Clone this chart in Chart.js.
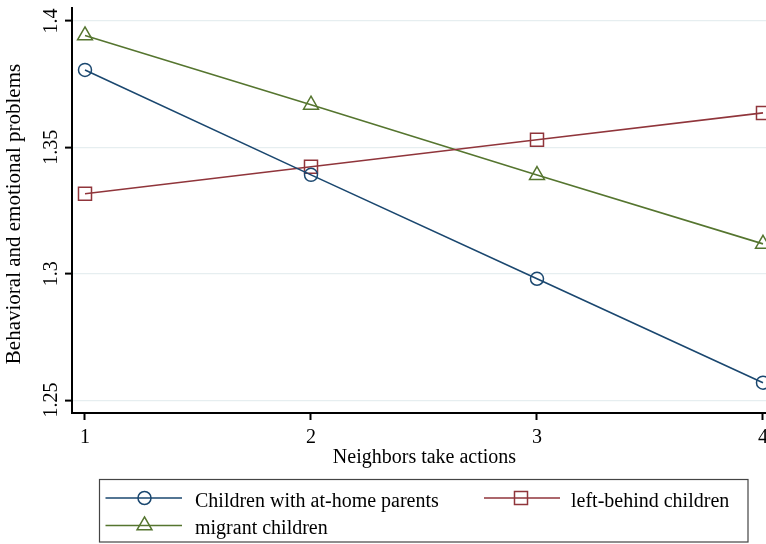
<!DOCTYPE html>
<html>
<head>
<meta charset="utf-8">
<script src="https://cdn.jsdelivr.net/npm/chart.js@4/dist/chart.umd.min.js"></script>
<style>
html,body{margin:0;padding:0;background:#fff;}
canvas{display:block;}
</style>
</head>
<body>
<canvas id="c" width="766" height="544"></canvas>
<script>
// ---- data ----
const xValues = [1, 2, 3, 4];
const xTickLabels = ['1', '2', '3', '4'];
const yTickValues = [1.25, 1.3, 1.35, 1.4];
const yTickLabels = ['1.25', '1.3', '1.35', '1.4'];
const seriesNames = ['Children with at-home parents', 'left-behind children', 'migrant children'];
const atHome = [1.3806, 1.3391, 1.2980, 1.2569];
const leftBehind = [1.3316, 1.3423, 1.3530, 1.3636];
const migrant = [1.3942, 1.3668, 1.3390, 1.3118];
const xTitle = 'Neighbors take actions';
const yTitle = 'Behavioral and emotional problems';

const FONT = "'Liberation Serif', 'Times New Roman', serif";
const colors = ['#1a476f', '#90353b', '#55752f'];
const styles = ['circle', 'rect', 'triangle'];
const radii = [6.5, 9.2, 8.6];

function pts(arr){ return xValues.map((x,i)=>({x:x, y:arr[i]})); }

function drawMarker(ctx, style, x, y, r){
  ctx.beginPath();
  if (style === 'circle') {
    ctx.arc(x, y, r, 0, Math.PI*2);
  } else if (style === 'rect') {
    const s = Math.SQRT1_2 * r;
    ctx.rect(x - s, y - s, 2*s, 2*s);
  } else if (style === 'triangle') {
    let a = 0;
    ctx.moveTo(x + Math.sin(a)*r, y - Math.cos(a)*r);
    a += 2*Math.PI/3;
    ctx.lineTo(x + Math.sin(a)*r, y - Math.cos(a)*r);
    a += 2*Math.PI/3;
    ctx.lineTo(x + Math.sin(a)*r, y - Math.cos(a)*r);
    ctx.closePath();
  }
  ctx.stroke();
}

const customDraw = {
  id: 'customDraw',
  afterDraw(chart){
    const ctx = chart.ctx;
    const ys = chart.scales.y;
    const xs = chart.scales.x;
    ctx.save();
    ctx.fillStyle = '#000';
    ctx.font = '20px ' + FONT;
    ctx.textAlign = 'center';
    ctx.textBaseline = 'alphabetic';
    // y tick labels, rotated
    yTickValues.forEach((v, i) => {
      const py = ys.getPixelForValue(v);
      ctx.save();
      ctx.translate(57, py);
      ctx.rotate(-Math.PI/2);
      ctx.fillText(yTickLabels[i], 0, 0);
      ctx.restore();
    });
    // x tick labels
    xValues.forEach((v, i) => {
      ctx.fillText(xTickLabels[i], xs.getPixelForValue(v), 443);
    });
    // x title
    ctx.fillText(xTitle, 424.5, 462.5);
    // y title
    ctx.save();
    ctx.font = '21px ' + FONT;
    ctx.translate(20, 214);
    ctx.rotate(-Math.PI/2);
    ctx.fillText(yTitle, 0, 0);
    ctx.restore();
    ctx.restore();

    // legend
    ctx.save();
    ctx.strokeStyle = '#444';
    ctx.lineWidth = 1.2;
    ctx.strokeRect(99.5, 479.5, 648.5, 62.5);
    const items = [
      {lx1:105.5, lx2:182, mx:144.5, ly:498, tx:195, ty:506.5},
      {lx1:484, lx2:560, mx:521, ly:498, tx:571, ty:506.5},
      {lx1:105.5, lx2:182, mx:144.5, ly:525.5, tx:195, ty:534}
    ];
    chart.data.datasets.forEach((ds, i) => {
      const it = items[i];
      ctx.strokeStyle = ds.borderColor;
      ctx.lineWidth = ds.borderWidth;
      ctx.beginPath();
      ctx.moveTo(it.lx1, it.ly);
      ctx.lineTo(it.lx2, it.ly);
      ctx.stroke();
      ctx.lineWidth = ds.pointBorderWidth;
      drawMarker(ctx, ds.pointStyle, it.mx, it.ly, ds.pointRadius);
      ctx.fillStyle = '#000';
      ctx.font = '20px ' + FONT;
      ctx.textAlign = 'left';
      ctx.textBaseline = 'alphabetic';
      ctx.fillText(ds.label, it.tx, it.ty);
    });
    ctx.restore();
  }
};

const series = [atHome, leftBehind, migrant];
const datasets = series.map((arr, i) => ({
  label: seriesNames[i],
  data: pts(arr),
  borderColor: colors[i],
  backgroundColor: 'rgba(0,0,0,0)',
  borderWidth: 1.6,
  pointStyle: styles[i],
  pointRadius: radii[i],
  pointBorderWidth: 1.5,
  pointBackgroundColor: 'rgba(0,0,0,0)',
  pointBorderColor: colors[i],
  tension: 0,
  clip: false
}));

new Chart(document.getElementById('c'), {
  type: 'line',
  data: { datasets },
  options: {
    responsive: false,
    animation: false,
    layout: { autoPadding: false, padding: { top: 8, left: 0, right: 0, bottom: 0 } },
    plugins: { legend: { display: false }, tooltip: { enabled: false } },
    scales: {
      x: {
        type: 'linear',
        min: 0.9425,
        max: 4.0133,
        afterBuildTicks(scale){ scale.ticks = xValues.map(v => ({value: v})); },
        afterFit(scale){ scale.height = 131; scale.paddingLeft = 0; scale.paddingRight = 0; },
        ticks: { display: false },
        grid: { display: true, drawOnChartArea: false, drawTicks: true, tickLength: 7, tickColor: '#000', tickWidth: 2 },
        border: { display: true, color: '#000', width: 2 },
        title: { display: false }
      },
      y: {
        type: 'linear',
        min: 1.2449,
        max: 1.4051,
        afterBuildTicks(scale){ scale.ticks = yTickValues.map(v => ({value: v})); },
        afterFit(scale){ scale.width = 72; scale.paddingTop = 0; scale.paddingBottom = 0; },
        ticks: { display: false },
        grid: { display: true, drawOnChartArea: true, color: '#e6eef0', lineWidth: 1.2, drawTicks: true, tickLength: 7, tickColor: '#000', tickWidth: 2 },
        border: { display: true, color: '#000', width: 2 },
        title: { display: false }
      }
    }
  },
  plugins: [customDraw]
});
</script>
</body>
</html>
